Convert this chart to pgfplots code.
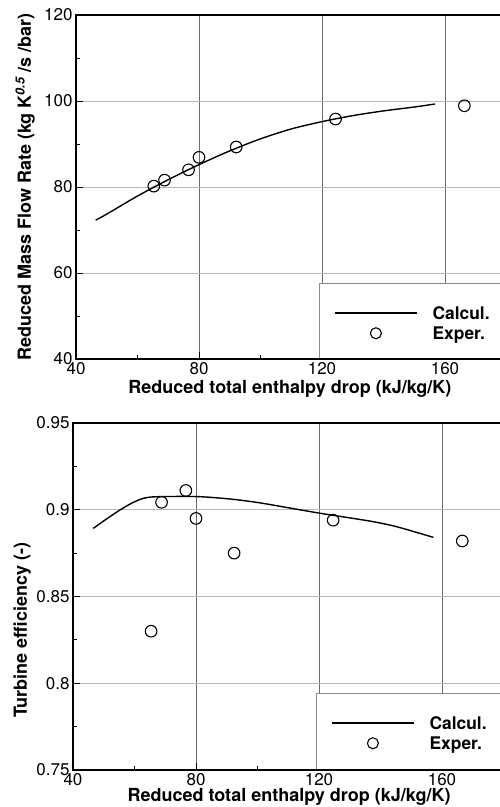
\documentclass[border=0pt]{standalone}
\usepackage{fontspec}
\setmainfont{TeX Gyre Heros}
\usepackage{pgfplots}
\pgfplotsset{compat=1.18}

\pgfplotsset{
  tec/.style={
    scale only axis, width=430.5pt,
    xmin=40, xmax=180, xtick={40,80,120,160}, minor x tick num=1,
    minor y tick num=1,
    tick align=inside, tick pos=left,
    axis line style={line width=1.5pt},
    major tick length=7pt, minor tick length=4pt,
    every tick/.style={black, line width=0.8pt},
    xmajorgrids, ymajorgrids,
    x grid style={black!58, line width=0.9pt},
    y grid style={black!28, line width=0.9pt},
    tick label style={font=\fontsize{17}{20}\selectfont},
    /pgf/number format/assume math mode=true,
    /pgf/number format/fixed, /pgf/number format/precision=2,
    label style={font=\bfseries\fontsize{18}{20}\selectfont},
    legend style={draw=none, fill=none, font=\bfseries\fontsize{17.4}{20}\selectfont,
      anchor=north west, inner sep=0pt, column sep=14pt, row sep=4pt,
      nodes={inner sep=1pt, anchor=base west}},
    legend cell align=left,
    legend image code/.code={\draw[mark repeat=2,mark phase=2]
      plot coordinates {(0pt,6pt)(41pt,6pt)(82pt,6pt)};},
  },
  calc/.style={black, line width=1.4pt, smooth, tension=0.5, no marks},
  exper/.style={only marks, mark=o, mark size=5.8pt, black,
    mark options={line width=1.1pt},
    legend image code/.code={\draw[mark size=5.5pt]
      plot coordinates {(41pt,6pt)};}},
}

\begin{document}
\begin{tikzpicture}

% mass flow
\begin{axis}[tec, at={(76pt,-359pt)}, anchor=south west, height=344pt,
  ymin=40, ymax=120, ytick={40,60,80,100,120},
  xlabel={Reduced total enthalpy drop (kJ/kg/K)},
  xlabel style={at={(axis description cs:0.497,-0.099)}, anchor=base},
  ylabel={Reduced Mass Flow Rate (kg K\textsuperscript{\itshape 0.5} /s /bar)},
  ylabel style={at={(axis description cs:-0.118,0.5)}, anchor=center},
  legend style={at={(rel axis cs:0.5645,0.221)}, xshift=15pt, yshift=-22pt}]
\fill[white] (rel axis cs:0.5645,0.003) rectangle (rel axis cs:1,0.221);
\draw[black!45, line width=0.8pt] (rel axis cs:0.5645,0.003) |- (rel axis cs:1,0.221);
\addplot[calc] coordinates {(46.4,72.3)(50,73.7)(60,77.9)(70,81.7)(80,85.2)
  (90,88.4)(100,91.2)(110,93.5)(120,95.2)(130,96.6)(140,97.7)(150,98.6)(156.7,99.3)};
\addlegendentry{Calcul.}
\addplot[exper] coordinates {(65.3,80.2)(68.8,81.6)(76.6,84.0)(80.0,86.9)
  (92.1,89.3)(124.4,95.8)(166.3,98.9)};
\addlegendentry{Exper.}
\end{axis}

% efficiency
\begin{axis}[tec, at={(73pt,-770pt)}, anchor=south west, height=347pt,
  ymin=0.75, ymax=0.95, ytick={0.75,0.8,0.85,0.9,0.95},
  xlabel={Reduced total enthalpy drop (kJ/kg/K)},
  xlabel style={at={(axis description cs:0.502,-0.092)}, anchor=base},
  ylabel={Turbine efficiency (-)},
  ylabel style={at={(axis description cs:-0.118,0.403)}, anchor=center},
  legend style={at={(rel axis cs:0.5645,0.222)}, xshift=15pt, yshift=-22pt}]
\fill[white] (rel axis cs:0.5645,0.003) rectangle (rel axis cs:1,0.222);
\draw[black!45, line width=0.8pt] (rel axis cs:0.5645,0.003) |- (rel axis cs:1,0.222);
\addplot[calc] coordinates {(46.6,0.8893)(51,0.8948)(55.3,0.8999)(59,0.9037)
  (62.9,0.9066)(67.2,0.9075)(80.2,0.9076)(91.1,0.9062)(100,0.9042)(107.3,0.9020)
  (120.3,0.8980)(129,0.8956)(137.7,0.8931)(145.3,0.8902)(157.2,0.8841)};
\addlegendentry{Calcul.}
\addplot[exper] coordinates {(65.4,0.830)(68.8,0.9043)(76.7,0.9111)(80.0,0.895)
  (92.4,0.875)(124.6,0.894)(166.6,0.882)};
\addlegendentry{Exper.}
\end{axis}

\pgfresetboundingbox
\path[use as bounding box] (0pt,0pt) rectangle (499pt,-807pt);
\end{tikzpicture}
\end{document}
